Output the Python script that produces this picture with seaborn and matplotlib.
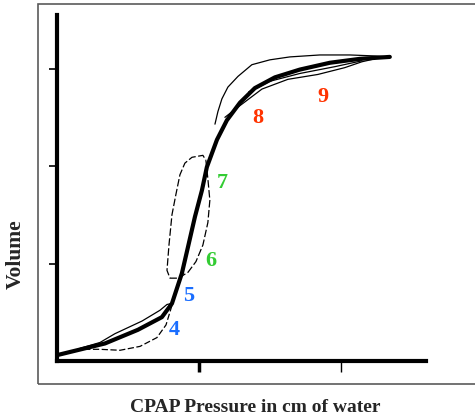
import matplotlib
matplotlib.use("Agg")
import matplotlib.pyplot as plt
from matplotlib.patches import Rectangle
import pandas as pd
import seaborn as sns

# pressure (x) / volume (y)
main_p = [0.0, 3.38, 5.70, 7.39, 8.10, 8.80, 9.23, 9.72, 10.21, 10.56, 11.27, 11.97,
          12.89, 13.94, 15.35, 17.11, 19.23, 21.34, 23.45]
main_v = [0.06, 0.18, 0.32, 0.45, 0.59, 0.90, 1.17, 1.48, 1.75, 1.99, 2.27, 2.47,
          2.65, 2.80, 2.91, 2.99, 3.06, 3.10, 3.12]

# loop 4 (low pressure)
loop4_up_p = [1.62, 3.03, 4.08, 5.99, 7.25, 7.75, 8.10]
loop4_up_v = [0.13, 0.19, 0.28, 0.41, 0.52, 0.58, 0.59]
loop4_dn_p = [8.10, 7.68, 7.04, 5.85, 4.44, 3.03, 1.97]
loop4_dn_v = [0.57, 0.37, 0.24, 0.15, 0.11, 0.12, 0.12]

# loop 5/6/7 (middle)
loop6_left_p = [8.45, 7.96, 7.75, 7.89, 8.10, 8.38, 8.66, 9.01, 9.51, 10.28, 10.49]
loop6_left_v = [0.85, 0.85, 0.93, 1.19, 1.50, 1.71, 1.91, 2.03, 2.09, 2.11, 2.06]
loop6_right_p = [10.49, 10.63, 10.77, 10.63, 10.28, 9.79, 9.23, 8.66]
loop6_right_v = [2.06, 1.87, 1.65, 1.42, 1.19, 1.02, 0.91, 0.86]

# loop 8/9 (high pressure)
loop8_up_p = [11.13, 11.34, 11.62, 12.04, 12.75, 13.73, 15.0, 16.41, 18.52, 20.63, 22.39, 23.45]
loop8_up_v = [2.43, 2.56, 2.69, 2.81, 2.92, 3.04, 3.09, 3.12, 3.14, 3.14, 3.13, 3.12]
loop8_dn_p = [11.83, 12.89, 14.44, 16.27, 18.38, 20.28, 21.48, 22.39]
loop8_dn_v = [2.50, 2.62, 2.79, 2.89, 2.94, 3.01, 3.07, 3.10]
loop9_mid_p = [13.5, 15.0, 17.11, 19.58, 21.48]
loop9_mid_v = [2.76, 2.87, 2.95, 3.02, 3.08]

labels = ["4", "5", "6", "7", "8", "9"]
label_p = [8.24, 9.30, 10.84, 11.62, 14.15, 18.73]
label_v = [0.32, 0.67, 1.03, 1.83, 2.49, 2.71]
label_colors = ["#1a6eff", "#1a6eff", "#33cc33", "#33cc33", "#ff3300", "#ff3300"]

sns.set_style("white")
plt.rcParams["font.family"] = ["Liberation Serif", "DejaVu Serif"]

fig = plt.figure(figsize=(4.75, 4.19), dpi=100)

# grey frame around the whole chart
fig.patches.append(Rectangle((38 / 475, 35 / 419), 1.0, 380 / 419, transform=fig.transFigure,
                             fill=False, edgecolor="#5a5a5a", linewidth=1.2))

ax = fig.add_axes([57 / 475, 58 / 419, 369 / 475, 346 / 419])

thin = dict(color="black", linewidth=0.9, sort=False, estimator=None, ax=ax)
sns.lineplot(x=loop4_up_p, y=loop4_up_v, **thin)
sns.lineplot(x=loop4_dn_p, y=loop4_dn_v, linestyle=(0, (5, 2)), **thin)
sns.lineplot(x=loop6_left_p, y=loop6_left_v, linestyle=(0, (6, 2)), **thin)
sns.lineplot(x=loop6_right_p, y=loop6_right_v, linestyle=(0, (6, 2)), **thin)
sns.lineplot(x=loop8_up_p, y=loop8_up_v, **thin)
sns.lineplot(x=loop8_dn_p, y=loop8_dn_v, **thin)
sns.lineplot(x=loop9_mid_p, y=loop9_mid_v, **thin)
sns.lineplot(x=main_p, y=main_v, color="black", linewidth=3.0, sort=False, estimator=None, ax=ax)

for t, px, vy, c in zip(labels, label_p, label_v, label_colors):
    ax.text(px, vy, t, color=c, fontsize=16, fontweight="bold", ha="center", va="center")

ax.set_xlim(0, 26)
ax.set_ylim(0, 3.55)
ax.set_xticks([10, 20])
ax.set_yticks([1, 2, 3])
ax.set_xticklabels([])
ax.set_yticklabels([])
ax.tick_params(axis="y", direction="out", length=6, width=1.2, color="black", left=True)
ax.tick_params(axis="x", direction="out", length=8, width=1.0, color="black", bottom=True)
ax.get_xticklines()[0].set_markeredgewidth(2.5)
for side in ["top", "right"]:
    ax.spines[side].set_visible(False)
for side in ["left", "bottom"]:
    ax.spines[side].set_color("black")
    ax.spines[side].set_linewidth(3)
ax.set_xlabel("")
ax.set_ylabel("")

fig.text(16 / 475, 165 / 419, "Volume", rotation=90, ha="center", va="center",
         fontsize=15.5, fontweight="bold")
fig.text(255 / 475, 12 / 419, "CPAP Pressure in cm of water", ha="center", va="center",
         fontsize=14, fontweight="bold")

fig.savefig("out.png", dpi=100)
